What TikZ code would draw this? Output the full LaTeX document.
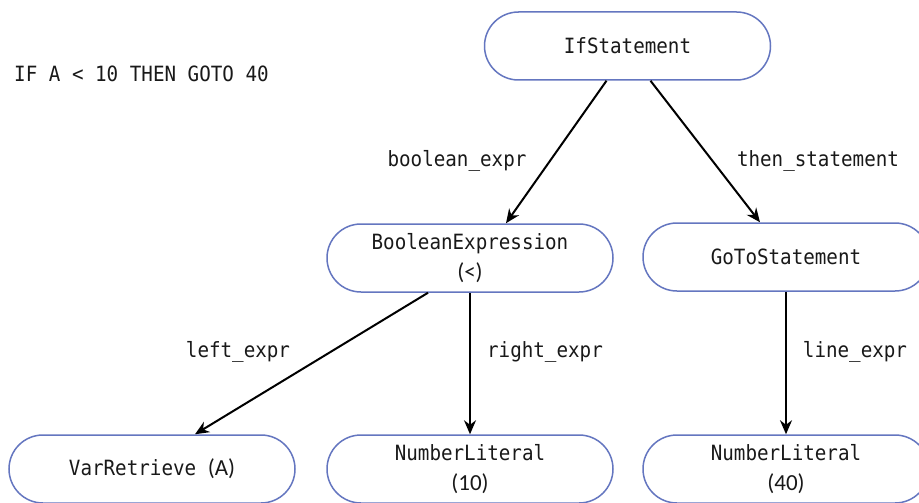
\documentclass[tikz,border=0pt]{standalone}
\usepackage{fontspec}
\usetikzlibrary{arrows.meta,shapes.misc}
\newfontfamily\codefont[FakeStretch=0.915]{DejaVu Sans Mono}
\newfontfamily\argfont{Carlito}
\definecolor{boxline}{RGB}{100,118,192}
\definecolor{ink}{RGB}{25,25,25}
\newcommand{\argtext}[1]{{\argfont\fontsize{23}{30}\selectfont #1}}
\tikzset{
  astnode/.style={rounded rectangle, draw=boxline, line width=1.5pt,
    minimum width=286pt, minimum height=68pt, inner sep=0pt,
    align=center, text=ink, font=\codefont\fontsize{21}{30}\selectfont},
  edgelabel/.style={text=ink, inner sep=0pt, font=\codefont\fontsize{21}{30}\selectfont},
  link/.style={draw=black, line width=2pt, -{Stealth[length=14pt,width=12pt]}}
}
\begin{document}
\begin{tikzpicture}[x=1pt,y=-1pt]
\clip (0,0) rectangle (919,503);
\fill[white] (0,0) rectangle (919,503);

% source statement
\node[edgelabel, anchor=west] (src) at (14,74) {IF A < 10 THEN GOTO 40};

% syntax tree nodes
\node[astnode] (if)   at (627.5,46) {IfStatement};
\node[astnode] (bool) at (470,258)  {BooleanExpression\\\argtext{(<)}};
\node[astnode] (go)   at (786,257)  {GoToStatement};
\node[astnode] (var)  at (152,469)  {VarRetrieve \argtext{(A)}};
\node[astnode] (n10)  at (470,469)  {NumberLiteral\\\argtext{(10)}};
\node[astnode] (n40)  at (786,469)  {NumberLiteral\\\argtext{(40)}};

% child links
\draw[link] ([xshift=-21pt]if.south) -- ([xshift=36pt]bool.north);
\draw[link] ([xshift=23pt]if.south) -- ([xshift=-26pt]go.north);
\draw[link] ([xshift=-42pt]bool.south) -- ([xshift=43pt]var.north);
\draw[link] (bool.south) -- (n10.north);
\draw[link] (go.south) -- (n40.north);

% field names
\node[edgelabel] (lb1) at (457,161) {boolean\_expr};
\node[edgelabel] (lb2) at (818,161) {then\_statement};
\node[edgelabel] (lb3) at (238,352) {left\_expr};
\node[edgelabel] (lb4) at (545,352) {right\_expr};
\node[edgelabel] (lb5) at (855,352) {line\_expr};
\end{tikzpicture}
\end{document}
